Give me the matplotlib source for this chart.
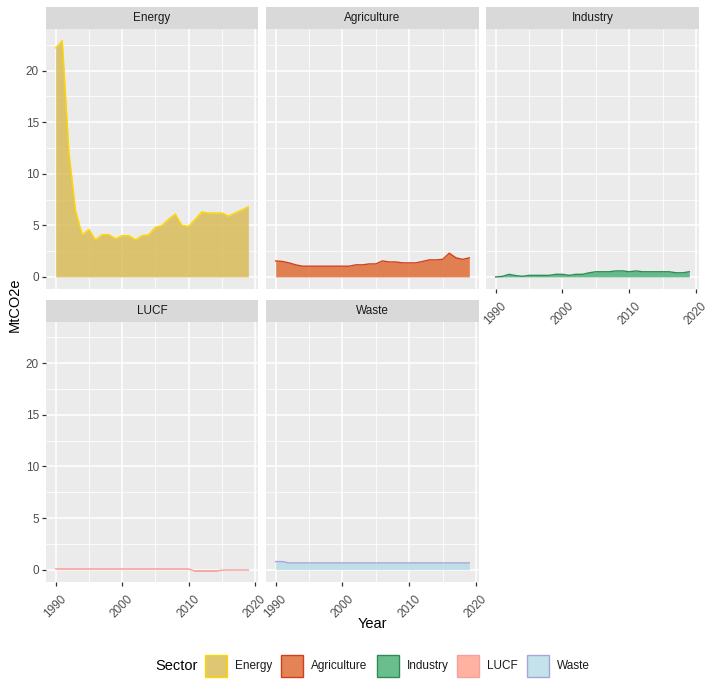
import matplotlib
matplotlib.use("Agg")
import matplotlib.pyplot as plt
from matplotlib.patches import Rectangle

plt.rcParams['font.family'] = ['Liberation Sans', 'DejaVu Sans']

years = list(range(1990, 2020))
sectors = ['Energy', 'Agriculture', 'Industry', 'LUCF', 'Waste']

energy = [22.2, 22.9, 12.1, 6.4, 4.1, 4.6, 3.6, 4.1, 4.1, 3.7,
          4.0, 4.0, 3.6, 4.0, 4.1, 4.8, 5.0, 5.6, 6.1, 5.0,
          4.9, 5.6, 6.3, 6.2, 6.2, 6.2, 5.9, 6.2, 6.5, 6.8]
agriculture = [1.55, 1.5, 1.36, 1.17, 1.04, 1.04, 1.04, 1.04, 1.04, 1.04,
               1.04, 1.04, 1.17, 1.17, 1.26, 1.26, 1.55, 1.45, 1.45, 1.36,
               1.36, 1.36, 1.5, 1.65, 1.65, 1.7, 2.3, 1.85, 1.7, 1.85]
industry = [0.0, 0.05, 0.25, 0.13, 0.06, 0.15, 0.15, 0.15, 0.15, 0.25,
            0.25, 0.15, 0.25, 0.25, 0.4, 0.5, 0.5, 0.5, 0.58, 0.58,
            0.5, 0.58, 0.5, 0.5, 0.5, 0.5, 0.5, 0.4, 0.4, 0.5]
lucf = [0.07] * 21 + [-0.15, -0.15, -0.15, -0.15, -0.05,
                      -0.03, -0.03, -0.03, -0.03]
waste = [0.78, 0.78] + [0.65] * 28

values = [energy, agriculture, industry, lucf, waste]
fills = ['#D8B84F', '#DD642C', '#45AE72', '#FE9F87', '#B5DBE7']
edges = ['#FFD700', '#D2401A', '#2E8B57', '#F8A0A0', '#A9A4DC']

W, H = 712, 692
cols = [(46, 258), (266, 479), (486, 699)]
rows = [(29.3, 289.3), (322, 582)]
strip_h = 22

fig = plt.figure(figsize=(W / 100, H / 100), dpi=100)


def rect(x0, x1, y0, y1):
    return [x0 / W, 1 - y1 / H, (x1 - x0) / W, (y1 - y0) / H]


for i, (name, vals) in enumerate(zip(sectors, values)):
    r, c = divmod(i, 3)
    x0, x1 = cols[c]
    y0, y1 = rows[r]
    ax = fig.add_axes(rect(x0, x1, y0, y1))
    ax.set_facecolor('#EBEBEB')
    for s in ax.spines.values():
        s.set_visible(False)
    ax.set_xlim(1988.55, 2020.45)
    ax.set_ylim(-1.2, 24.0)
    ax.set_xticks([1990, 2000, 2010, 2020])
    ax.set_xticks([1995, 2005, 2015], minor=True)
    ax.set_yticks([0, 5, 10, 15, 20])
    ax.set_yticks([2.5, 7.5, 12.5, 17.5, 22.5], minor=True)
    ax.grid(which='major', color='white', linewidth=1.1)
    ax.grid(which='minor', color='white', linewidth=0.55)
    ax.set_axisbelow(True)
    ax.fill_between(years, vals, 0, color=fills[i], alpha=0.8, linewidth=0)
    ax.plot(years, vals, color=edges[i], linewidth=1.0)
    ax.tick_params(which='minor', length=0)
    ax.tick_params(which='major', length=3, color='#333333', width=0.9,
                   labelsize=8.5, labelcolor='#4D4D4D', pad=2)
    if c != 0:
        ax.tick_params(axis='y', left=False, labelleft=False)
    if r == 0 and c != 2:
        ax.tick_params(axis='x', bottom=False, labelbottom=False)
    else:
        ax.tick_params(axis='x', pad=14.4)
        for lab in ax.get_xticklabels():
            lab.set_rotation(45)
            lab.set_ha('center')
            lab.set_va('center')
    sax = fig.add_axes(rect(x0, x1, y0 - strip_h, y0))
    sax.set_facecolor('#D9D9D9')
    sax.set_xticks([])
    sax.set_yticks([])
    for s in sax.spines.values():
        s.set_visible(False)
    sax.text(0.5, 0.5, name, ha='center', va='center', fontsize=8.5,
             color='#1A1A1A', transform=sax.transAxes)

fig.text(15 / W, 1 - 305 / H, 'MtCO2e', rotation=90, ha='center',
         va='center', fontsize=10.5)
fig.text(372 / W, 1 - 624 / H, 'Year', ha='center', va='center',
         fontsize=10.5)

# legend
fig.text(155 / W, 1 - 666 / H, 'Sector', ha='left', va='center',
         fontsize=10.5)
key_x = [205, 281, 377, 457, 527]
for kx, name, fc, ec in zip(key_x, sectors, fills, edges):
    fig.patches.append(Rectangle((kx / W, 1 - 677 / H), 22 / W, 22 / H,
                                 transform=fig.transFigure, facecolor=fc,
                                 alpha=0.8, edgecolor='none'))
    fig.patches.append(Rectangle((kx / W, 1 - 677 / H), 22 / W, 22 / H,
                                 transform=fig.transFigure, facecolor='none',
                                 edgecolor=ec, linewidth=1.0))
    fig.text((kx + 30) / W, 1 - 666 / H, name, ha='left', va='center',
             fontsize=8.5, color='#1A1A1A')

fig.savefig('out.png', dpi=100)
